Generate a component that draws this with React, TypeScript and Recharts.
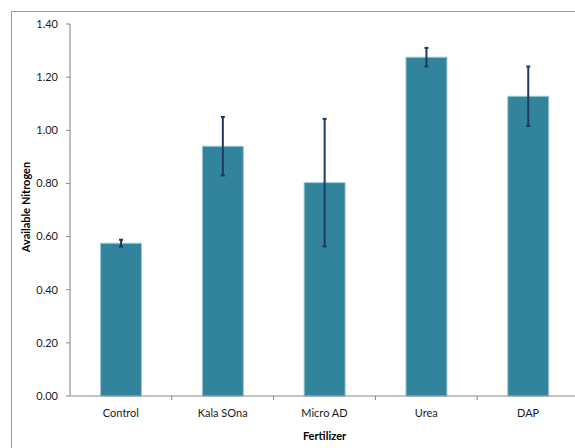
import React from 'react';
import { BarChart, Bar, XAxis, YAxis, ErrorBar } from 'recharts';

const categories = ['Control', 'Kala SOna', 'Micro AD', 'Urea', 'DAP'];
const nitrogen = [0.575, 0.94, 0.803, 1.275, 1.128];
const errors = [0.013, 0.11, 0.24, 0.035, 0.112];
const yTicks = [0, 0.2, 0.4, 0.6, 0.8, 1.0, 1.2, 1.4];

const data = categories.map((c, i) => ({ name: c, value: nitrogen[i], err: errors[i] }));

const FONT = 'Lato, "Liberation Sans", sans-serif';
const TEXT = '#1a1a1a';
const AXIS = '#868686';

const XTick = (props: any) => {
  const { x, y, payload, index, visibleTicksCount } = props;
  const off = payload && payload.offset ? payload.offset : 0;
  const axisY = y - 10;
  return (
    <g>
      {index > 0 && <line x1={x - off} x2={x - off} y1={axisY} y2={axisY + 4} stroke={AXIS} />}
      {index === visibleTicksCount - 1 && (
        <line x1={x + off} x2={x + off} y1={axisY} y2={axisY + 4} stroke={AXIS} />
      )}
      <text x={x} y={y + 11} textAnchor="middle" fontFamily={FONT} fontSize={11} fill={TEXT}>
        {payload.value}
      </text>
    </g>
  );
};

const YLabel = (props: any) => {
  const { viewBox } = props;
  const cx = viewBox.x + 25;
  const cy = viewBox.y + viewBox.height / 2 - 3;
  return (
    <text
      x={cx}
      y={cy}
      transform={`rotate(-90, ${cx}, ${cy})`}
      textAnchor="middle"
      dominantBaseline="central"
      fontFamily={FONT}
      fontSize={11}
      fontWeight="bold"
      fill="#000"
    >
      Available Nitrogen
    </text>
  );
};

const XLabel = (props: any) => {
  const { viewBox } = props;
  const cx = viewBox.x + viewBox.width / 2;
  return (
    <text x={cx} y={440} textAnchor="middle" fontFamily={FONT} fontSize={11} fontWeight="bold" fill="#000">
      Fertilizer
    </text>
  );
};

export default function App() {
  return (
    <div
      style={{
        position: 'absolute',
        left: 0,
        top: 0,
        width: 575,
        height: 448,
        overflow: 'hidden',
        background: '#fff',
      }}
    >
      <div
        style={{
          position: 'absolute',
          left: 11,
          top: 11,
          width: 700,
          height: 600,
          border: '1px solid #9a9a9a',
        }}
      />
      <div style={{ position: 'absolute', left: 0, top: 0 }}>
        <BarChart
          width={610}
          height={470}
          data={data}
          margin={{ top: 24, right: 31, left: 0, bottom: 0 }}
          barCategoryGap="30%"
        >
          <XAxis
            dataKey="name"
            height={74}
            stroke={AXIS}
            tickLine={false}
            tickSize={4}
            tickMargin={6}
            tick={<XTick />}
            interval={0}
            label={<XLabel />}
          />
          <YAxis
            width={70}
            domain={[0, 1.4]}
            ticks={yTicks}
            interval={0}
            tickFormatter={(v: number) => v.toFixed(2)}
            axisLine={{ stroke: '#bfbfbf', strokeWidth: 2 }}
            tickLine={{ stroke: AXIS }}
            tickSize={4}
            tickMargin={8}
            tick={{ fontFamily: FONT, fontSize: 11, fill: TEXT }}
            label={<YLabel />}
          />
          <Bar dataKey="value" fill="#31849B" stroke="#9ccbd6" strokeWidth={1} isAnimationActive={false}>
            <ErrorBar dataKey="err" stroke="#1F3864" strokeWidth={2} width={2} />
          </Bar>
        </BarChart>
      </div>
    </div>
  );
}
